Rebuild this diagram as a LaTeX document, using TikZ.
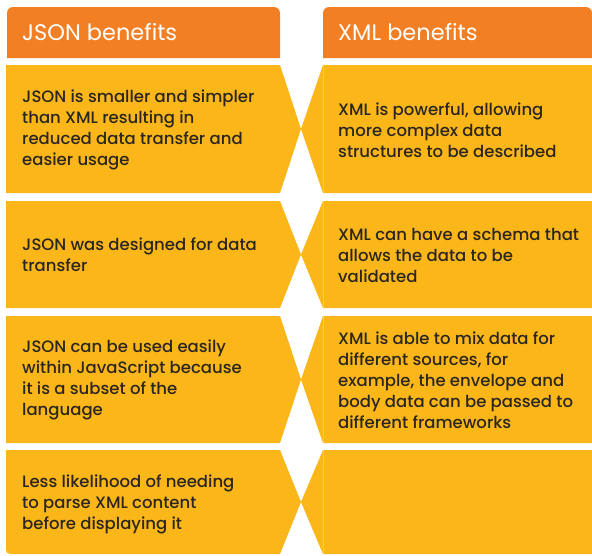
\documentclass[tikz,border=0pt]{standalone}
\usepackage{fontspec}
\setmainfont{Poppins}
\newfontfamily\bodyfont{Poppins Medium}
\definecolor{hdr}{HTML}{F37F24}
\definecolor{cell}{HTML}{FBB61A}
\definecolor{seam}{HTML}{FCC958}
\definecolor{ink}{HTML}{2B2620}
\begin{document}
\begin{tikzpicture}[x=1pt,y=-1pt,
  hdrtext/.style={anchor=west,text=white,font=\fontsize{22.5}{26}\selectfont,inner sep=0pt},
  bodytext/.style={anchor=west,align=left,text=ink,font=\bodyfont\fontsize{16.5}{21}\selectfont,inner sep=0pt},
  seamline/.style={draw=seam,line width=0.6pt}]
\useasboundingbox (0,0) rectangle (592,555);
% headers
\fill[hdr] (7,58) [rounded corners=6] -- (7,7) -- (280,7) [sharp corners] -- (280,58) -- cycle;
\fill[hdr] (323,58) [rounded corners=6] -- (323,7) -- (592,7) [sharp corners] -- (592,58) -- cycle;
\node[hdrtext] (hj) at (22,32) {JSON benefits};
\node[hdrtext] (hx) at (338,32) {XML benefits};
% rows
\foreach \t/\b [evaluate=\t as \m using (\t+\b)/2] in {65/193,201/308,316/443} {
  \fill[cell] (6,\t) -- (280,\t) -- (301,\m) -- (280,\b) -- (6,\b) -- cycle;
  \fill[cell] (323,\t) -- (592,\t) -- (592,\b) -- (323,\b) -- (301,\m) -- cycle;
  \draw[seamline] (323,\t) -- (323,\b);
}
\fill[cell] (301,502) -- (280,554) [rounded corners=4] -- (6,554) [sharp corners] -- (6,450) -- (280,450) -- cycle;
\fill[cell] (323,450) -- (592,450) -- (592,554) -- (323,554) -- (301,502) -- cycle;
\draw[seamline] (323,450) -- (323,554);
% texts
\node[bodytext] (j1) at (22,130) {JSON is smaller and simpler\\than XML resulting in\\reduced data transfer and\\easier usage};
\node[bodytext] (x1) at (338,130) {XML is powerful, allowing\\more complex data\\structures to be described};
\node[bodytext] (j2) at (22,255) {JSON was designed for data\\transfer};
\node[bodytext] (x2) at (338,255) {XML can have a schema that\\allows the data to be\\validated};
\node[bodytext] (j3) at (22,380) {JSON can be used easily\\within JavaScript because\\it is a subset of the\\language};
\node[bodytext] (x3) at (338,380) {XML is able to mix data for\\different sources, for\\example, the envelope and\\body data can be passed to\\different frameworks};
\node[bodytext] (j4) at (22,504) {Less likelihood of needing\\to parse XML content\\before displaying it};
\end{tikzpicture}
\end{document}
